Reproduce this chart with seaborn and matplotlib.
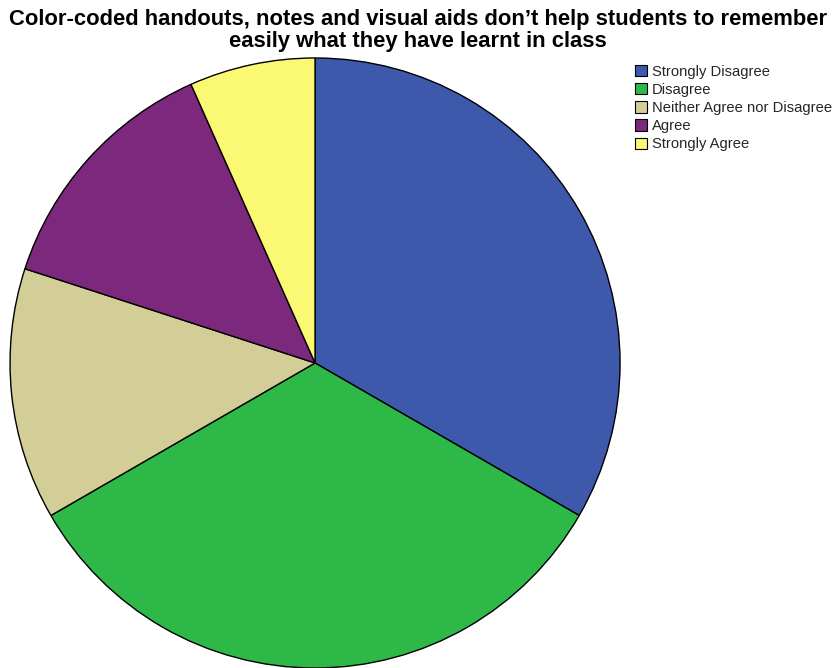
import matplotlib
matplotlib.use("Agg")
import matplotlib.pyplot as plt
import seaborn as sns
from matplotlib.patches import Patch

sns.set_theme(style="white")
plt.rcParams['font.family'] = ['Liberation Sans', 'DejaVu Sans']

categories = ["Strongly Disagree", "Disagree", "Neither Agree nor Disagree",
              "Agree", "Strongly Agree"]
counts = [10, 10, 4, 4, 2]
colors = ["#3E58AC", "#2EB848", "#D3CE97", "#7C287D", "#FBF873"]
title = ("Color-coded handouts, notes and visual aids don\u2019t help students to remember\n"
         "easily what they have learnt in class")

fig = plt.figure(figsize=(8.36, 6.68), dpi=100)
fig.patch.set_facecolor("white")

ax = fig.add_axes([0.012, 0.0, 0.7297, 0.9132])
ax.pie(counts, colors=colors, startangle=90, counterclock=False,
       wedgeprops=dict(edgecolor="black", linewidth=1.0), radius=1.0)
ax.set_xlim(-1, 1)
ax.set_ylim(-1, 1)
ax.set_aspect("equal")
ax.axis("off")

fig.text(0.5, 0.987, title, ha="center", va="top", fontsize=15.8,
         fontweight="bold", linespacing=1.1, color="black")

handles = [Patch(facecolor=c, edgecolor="black", linewidth=0.8) for c in colors]
fig.legend(handles, categories, loc="upper left", bbox_to_anchor=(0.760, 0.903),
           frameon=False, fontsize=10.6, handlelength=0.8, handleheight=0.8,
           handletextpad=0.3, labelspacing=0.28, borderaxespad=0, borderpad=0)

fig.savefig("out.png", dpi=100, facecolor="white")
